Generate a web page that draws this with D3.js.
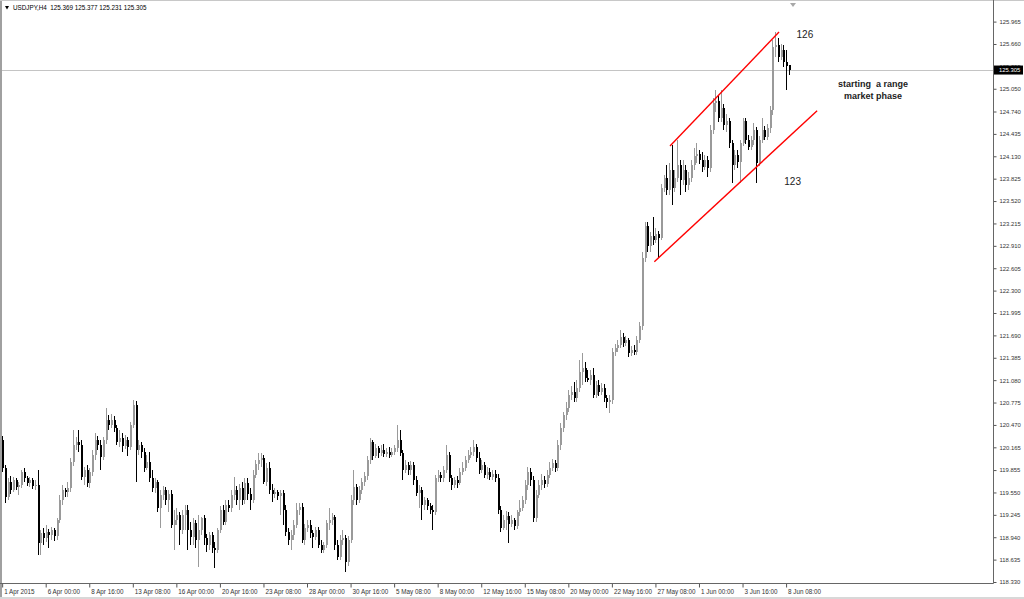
<!DOCTYPE html>
<html><head><meta charset="utf-8">
<script src="https://cdn.jsdelivr.net/npm/d3@7"></script>
<style>html,body{margin:0;padding:0;background:#fff;}svg{display:block;}</style>
</head><body>
<svg id="c" width="1024" height="599"></svg>
<script>
const symbolTitle = "USDJPY,H4  125.369 125.377 125.231 125.305";
const lastPrice = 125.305;

const opens = [
120.26,119.88,119.49,119.69,119.58,119.72,119.62,119.65,119.83,119.75,
119.68,119.72,119.64,119.65,118.86,119.00,118.93,119.01,118.97,119.04,
118.96,119.18,119.45,119.58,119.55,119.61,119.97,120.20,120.24,120.20,
119.76,119.86,119.68,119.83,120.06,120.26,120.20,120.03,120.26,120.54,
120.47,120.54,120.43,120.24,120.29,120.18,120.26,120.17,120.47,120.74,
120.13,120.20,120.10,119.88,119.97,119.75,119.61,119.69,119.34,119.51,
119.58,119.45,119.53,119.11,119.18,119.24,119.04,119.24,119.31,119.04,
118.94,119.14,118.90,119.04,119.20,118.93,118.84,118.97,118.79,118.77,
119.04,119.31,119.15,119.38,119.34,119.51,119.58,119.45,119.61,119.45,
119.68,119.53,119.45,119.79,119.94,119.99,120.02,119.69,119.88,119.58,
119.53,119.55,119.50,119.54,119.31,119.01,118.90,118.97,119.11,119.31,
119.35,118.90,119.07,119.11,119.00,118.94,119.04,118.84,118.77,118.84,
119.14,119.18,
119.21,118.84,118.67,118.90,118.93,118.60,118.90,119.45,119.62,
119.45,119.58,119.69,119.78,119.99,120.24,120.05,120.16,120.09,120.13,
120.07,120.10,120.06,120.10,120.16,120.26,120.09,119.86,119.92,119.86,
119.92,119.72,119.54,119.58,119.38,119.45,119.37,119.31,119.28,119.75,
119.79,119.75,119.86,120.06,119.75,119.65,119.72,119.68,119.83,119.88,
119.99,120.06,120.10,120.17,120.02,119.86,119.92,119.79,119.83,119.76,
119.80,119.75,119.31,119.07,119.18,119.23,119.12,119.18,119.09,119.28,
119.34,119.45,119.65,119.83,119.72,119.20,119.51,119.65,119.72,119.67,
119.79,119.88,119.95,119.88,120.20,120.43,120.61,120.70,120.88,120.92,
120.84,120.97,121.19,121.25,121.11,
121.08,121.15,120.88,121.01,120.92,120.97,
120.84,120.78,120.81,121.46,121.52,121.56,121.67,121.59,121.63,121.45,
121.49,121.46,121.63,121.82,122.74,123.18,122.91,123.04,122.99,123.07,
123.02,123.70,123.83,123.67,123.94,123.70,123.83,124.01,123.81,123.94,
123.74,123.83,124.01,124.13,124.16,124.08,123.98,124.08,123.97,124.49,
124.86,124.88,124.65,124.79,124.56,124.61,124.31,124.01,124.15,124.05,
124.31,124.61,124.35,124.26,124.35,124.49,124.04,124.35,124.49,124.39,
124.52,124.76,125.62,125.65,125.48,125.58,125.41,125.369];

const highs = [
120.32,119.92,119.75,119.78,119.76,119.75,119.69,119.86,119.88,119.78,
119.76,119.75,119.72,119.86,119.04,119.07,119.11,119.05,119.08,119.07,
119.20,119.51,119.65,119.61,119.69,120.02,120.40,120.30,120.40,120.26,
119.90,119.92,119.88,120.13,120.36,120.32,120.26,120.30,120.70,120.60,
120.62,120.59,120.47,120.40,120.36,120.33,120.30,120.51,120.81,120.80,
120.26,120.24,120.16,120.06,120.10,119.86,119.75,119.72,119.58,119.64,
119.62,119.58,119.58,119.31,119.34,119.28,119.31,119.38,119.38,119.15,
119.20,119.18,119.24,119.22,119.24,118.98,119.01,119.01,118.87,119.07,
119.37,119.38,119.45,119.45,119.58,119.76,119.64,119.67,119.69,119.75,
119.75,119.61,119.86,119.99,120.09,120.09,120.06,119.95,119.97,119.67,
119.61,119.58,119.58,119.58,119.38,119.07,119.04,119.18,119.41,119.41,
119.41,119.12,119.18,119.18,119.04,119.08,119.08,118.90,118.87,119.18,
119.34,119.27,
119.24,118.90,118.97,119.04,118.97,118.96,119.51,119.86,119.67,
119.64,119.75,119.83,120.05,120.29,120.26,120.21,120.18,120.20,120.21,
120.16,120.17,120.16,120.20,120.47,120.40,120.13,119.99,119.97,119.98,
119.97,119.78,119.65,119.62,119.49,119.47,119.41,119.38,119.79,119.86,
119.83,119.91,120.20,120.10,119.79,119.76,119.78,119.88,119.97,120.05,
120.13,120.17,120.26,120.21,120.10,119.99,119.97,119.90,119.88,119.86,
119.86,119.80,119.37,119.24,119.30,119.28,119.24,119.20,119.31,119.45,
119.50,119.72,119.90,119.88,119.78,119.58,119.72,119.80,119.78,119.86,
119.97,120.01,119.99,120.26,120.50,120.65,120.78,120.94,121.00,121.05,
121.08,121.35,121.45,121.33,121.22,
121.22,121.25,121.07,121.08,121.04,121.03,
120.88,120.88,121.52,121.57,121.63,121.76,121.72,121.68,121.65,121.55,
121.56,121.68,121.87,122.83,123.23,123.23,123.10,123.30,123.15,123.11,
123.75,123.87,124.01,124.04,124.28,123.94,124.35,124.08,124.08,124.01,
123.92,124.08,124.24,124.31,124.22,124.19,124.15,124.13,124.56,124.92,
125.03,124.95,125.03,124.84,124.71,124.65,124.35,124.22,124.22,124.35,
124.65,124.65,124.42,124.41,124.58,124.53,124.41,124.65,124.54,124.57,
124.82,125.71,125.82,125.74,125.66,125.65,125.58,125.377];

const lows = [
119.83,119.41,119.45,119.53,119.55,119.58,119.51,119.61,119.69,119.64,
119.62,119.60,119.58,118.70,118.70,118.84,118.87,118.79,118.90,118.89,
118.90,119.14,119.38,119.49,119.49,119.55,119.91,120.13,120.10,119.72,
119.65,119.62,119.61,119.78,119.99,120.13,119.86,119.99,120.21,120.40,
120.43,120.37,120.20,120.17,120.10,120.14,120.05,120.13,120.43,119.69,
120.06,120.02,119.83,119.86,119.69,119.55,119.54,119.28,119.07,119.45,
119.38,119.28,119.07,118.77,119.11,118.84,118.98,119.04,118.77,118.84,
118.84,118.79,118.53,118.97,118.84,118.74,118.77,118.73,118.52,118.73,
119.00,119.10,119.11,119.28,119.28,119.45,119.38,119.31,119.38,119.39,
119.45,119.31,119.41,119.75,119.86,119.90,119.67,119.64,119.53,119.42,
119.47,119.45,119.24,119.11,118.96,118.84,118.77,118.90,119.07,119.24,
118.86,118.84,119.01,118.93,118.79,118.90,118.79,118.73,118.73,118.79,
119.04,119.11,
118.77,118.63,118.63,118.84,118.47,118.55,118.86,119.38,119.38,
119.41,119.53,119.64,119.72,119.94,119.99,120.02,120.02,120.05,120.03,
120.03,120.02,120.03,120.06,120.10,120.05,119.72,119.82,119.79,119.79,
119.65,119.50,119.34,119.18,119.31,119.31,119.26,119.04,119.24,119.69,
119.69,119.69,119.82,119.69,119.58,119.61,119.61,119.65,119.79,119.84,
119.95,120.02,120.05,119.97,119.80,119.82,119.75,119.73,119.72,119.72,
119.69,119.26,119.01,119.04,119.04,118.86,119.08,119.04,119.05,119.23,
119.30,119.39,119.58,119.64,119.15,119.15,119.47,119.58,119.61,119.62,
119.75,119.84,119.83,119.84,120.13,120.37,120.54,120.65,120.81,120.78,
120.78,120.92,121.01,121.05,121.05,
121.01,120.84,120.84,120.86,120.88,120.78,
120.70,120.63,120.76,121.41,121.46,121.52,121.53,121.55,121.40,121.41,
121.42,121.42,121.59,121.76,122.69,122.83,122.83,122.92,122.95,122.74,
122.99,123.64,123.60,123.60,123.47,123.64,123.78,123.60,123.74,123.64,
123.67,123.78,123.94,124.04,124.03,123.92,123.94,123.85,123.92,124.43,
124.73,124.60,124.60,124.49,124.46,124.24,123.77,123.94,123.97,123.77,
124.27,124.30,124.22,124.22,124.28,123.77,124.00,124.31,124.35,124.35,
124.45,124.69,125.48,125.41,125.44,125.35,125.03,125.231];

const closes = [
119.88,119.49,119.69,119.58,119.72,119.62,119.65,119.83,119.75,119.68,
119.72,119.64,119.65,118.86,119.00,118.93,119.01,118.97,119.04,118.96,
119.18,119.45,119.58,119.55,119.61,119.97,120.20,120.24,120.20,119.76,
119.86,119.68,119.83,120.06,120.26,120.20,120.03,120.26,120.54,120.47,
120.54,120.43,120.24,120.29,120.18,120.26,120.17,120.47,120.74,120.13,
120.20,120.10,119.88,119.97,119.75,119.61,119.69,119.34,119.51,119.58,
119.45,119.53,119.11,119.18,119.24,119.04,119.24,119.31,119.04,118.94,
119.14,118.90,119.04,119.20,118.93,118.84,118.97,118.79,118.77,119.04,
119.31,119.15,119.38,119.34,119.51,119.58,119.45,119.61,119.45,119.68,
119.53,119.45,119.79,119.94,119.99,120.02,119.69,119.88,119.58,119.53,
119.55,119.50,119.54,119.31,119.01,118.90,118.97,119.11,119.31,119.35,
118.90,119.07,119.11,119.00,118.94,119.04,118.84,118.77,118.84,119.14,
119.18,119.21,
118.84,118.67,118.90,118.93,118.60,118.90,119.45,119.62,119.45,
119.58,119.69,119.78,119.99,120.24,120.05,120.16,120.09,120.13,120.07,
120.10,120.06,120.10,120.16,120.26,120.09,119.86,119.92,119.86,119.92,
119.72,119.54,119.58,119.38,119.45,119.37,119.31,119.28,119.75,119.79,
119.75,119.86,120.06,119.75,119.65,119.72,119.68,119.83,119.88,119.99,
120.06,120.10,120.17,120.02,119.86,119.92,119.79,119.83,119.76,119.80,
119.75,119.31,119.07,119.18,119.23,119.12,119.18,119.09,119.28,119.34,
119.45,119.65,119.83,119.72,119.20,119.51,119.65,119.72,119.67,119.79,
119.88,119.95,119.88,120.20,120.43,120.61,120.70,120.88,120.92,120.84,
120.97,121.19,121.25,121.11,121.08,
121.15,120.88,121.01,120.92,120.97,120.84,
120.78,120.81,121.46,121.52,121.56,121.67,121.59,121.63,121.45,121.49,
121.46,121.63,121.82,122.74,123.18,122.91,123.04,122.99,123.07,123.02,
123.70,123.83,123.67,123.94,123.70,123.83,124.01,123.81,123.94,123.74,
123.83,124.01,124.13,124.16,124.08,123.98,124.08,123.97,124.49,124.86,
124.88,124.65,124.79,124.56,124.61,124.31,124.01,124.15,124.05,124.31,
124.61,124.35,124.26,124.35,124.49,124.04,124.35,124.49,124.39,124.52,
124.76,125.62,125.65,125.48,125.58,125.41,125.36,125.305];

const priceTicks = [125.965,125.660,125.355,125.050,124.740,124.435,124.130,123.825,123.520,123.215,
  122.910,122.605,122.300,121.995,121.690,121.385,121.080,120.775,120.470,120.165,
  119.855,119.550,119.245,118.940,118.635,118.330];

const timeTickBars = [0,16,32,48,64,80,96,112,128,144,160,176,192,208,224,240,256,272,288];
const timeTickLabels = ["1 Apr 2015","6 Apr 00:00","8 Apr 16:00","13 Apr 08:00","16 Apr 00:00",
  "20 Apr 16:00","23 Apr 08:00","28 Apr 00:00","30 Apr 16:00","5 May 08:00","8 May 00:00",
  "12 May 16:00","15 May 08:00","20 May 00:00","22 May 16:00","27 May 08:00","1 Jun 00:00",
  "3 Jun 16:00","8 Jun 08:00"];

// channel lines: [barIndex, price]
const upperChannel = [[245.35, 124.27],[285.4, 125.823]];
const lowerChannel = [[239.6, 122.694],[299.4, 124.751]];

const notes = [
  {bar: 294.9, price: 125.78, text: "126", weight: "normal"},
  {bar: 290.4, price: 123.78, text: "123", weight: "normal"},
  {bar: 319.9, price: 125.10, text: "starting  a range", weight: "bold"},
  {bar: 319.9, price: 124.94, text: "market phase", weight: "bold"}
];

// ---------- drawing ----------
const svg = d3.select("#c");
const plotRight = 993.5, plotBottom = 583.5;

const x = d3.scaleLinear().domain([0, 289]).range([2.15, 2.15 + 289*2.722]);
const y = d3.scaleLinear().domain([118.33, 125.965]).range([582, 21.6]);

svg.append("rect").attr("width",1024).attr("height",599).attr("fill","#fff");

// outer borders
svg.append("rect").attr("x",0).attr("y",0).attr("width",2).attr("height",599).attr("fill","#a0a0a0");
svg.append("rect").attr("x",0).attr("y",0).attr("width",1024).attr("height",1).attr("fill","#c8c8c8");
svg.append("rect").attr("x",0).attr("y",597).attr("width",1024).attr("height",2).attr("fill","#d8d8d8");

// current price line
svg.append("line").attr("x1",2).attr("x2",plotRight).attr("y1",Math.round(y(lastPrice))+0.5).attr("y2",Math.round(y(lastPrice))+0.5)
  .attr("stroke","#c4c4c4").attr("stroke-width",1);

const bars = d3.range(closes.length).map(i => ({i, o:opens[i], h:highs[i], l:lows[i], c:closes[i]}));
const bullCol = "#9a9a9a", bearCol = "#000";
const g = svg.append("g").attr("shape-rendering","crispEdges");
g.selectAll("line.wick").data(bars).join("line")
  .attr("x1", d => Math.round(x(d.i)) + 0.5).attr("x2", d => Math.round(x(d.i)) + 0.5)
  .attr("y1", d => y(d.h)).attr("y2", d => y(d.l))
  .attr("stroke", d => d.c >= d.o ? bullCol : bearCol).attr("stroke-width",1);
g.selectAll("rect.body").data(bars).join("rect")
  .attr("x", d => Math.round(x(d.i)))
  .attr("width", 2)
  .attr("y", d => y(Math.max(d.o,d.c)))
  .attr("height", d => Math.max(1, Math.abs(y(d.o)-y(d.c))))
  .attr("fill", d => d.c >= d.o ? bullCol : bearCol);

// channel lines
const lineGen = d3.line().x(d => x(d[0])).y(d => y(d[1]));
[upperChannel, lowerChannel].forEach(seg => {
  svg.append("path").attr("d", lineGen(seg)).attr("fill","none").attr("stroke","#ff0000").attr("stroke-width",1.4);
});

// notes
svg.selectAll("text.note").data(notes).join("text")
  .attr("x", d => x(d.bar)).attr("y", d => y(d.price))
  .attr("text-anchor","middle").attr("dominant-baseline","middle")
  .attr("font-family","Liberation Sans, Arial, sans-serif")
  .attr("font-size", d => d.weight === "bold" ? 9 : 10)
  .attr("font-weight", d => d.weight)
  .attr("xml:space","preserve").style("white-space","pre")
  .attr("fill","#222").text(d => d.text);

// price axis
const yAxis = d3.axisRight(y).tickValues(priceTicks).tickFormat(d3.format(".3f")).tickSize(3).tickPadding(3);
const ya = svg.append("g").attr("transform",`translate(${plotRight},0)`).call(yAxis);
ya.select(".domain").remove();
ya.selectAll("line").attr("stroke","#555");
ya.selectAll("text").attr("font-family","Liberation Sans, Arial, sans-serif").attr("font-size",5.9).attr("fill","#333");

// time axis
const xAxis = d3.axisBottom(x).tickValues(timeTickBars).tickFormat((d,i) => timeTickLabels[i]).tickSize(4).tickPadding(2);
const xa = svg.append("g").attr("transform",`translate(0,${plotBottom})`).call(xAxis);
xa.select(".domain").remove();
xa.selectAll("line").attr("stroke","#555");
xa.selectAll("text").attr("text-anchor","start").attr("dx",1.5)
  .attr("font-family","Liberation Sans, Arial, sans-serif").attr("font-size",6.3).attr("fill","#333");

// frame lines
svg.append("line").attr("x1",plotRight).attr("x2",plotRight).attr("y1",0).attr("y2",plotBottom).attr("stroke","#666");
svg.append("line").attr("x1",0).attr("x2",plotRight).attr("y1",plotBottom).attr("y2",plotBottom).attr("stroke","#666");

// last price box
const ly = y(lastPrice);
svg.append("rect").attr("x",plotRight+0.5).attr("y",ly-4.5).attr("width",29).attr("height",9).attr("fill","#000");
svg.append("text").attr("x",plotRight+5.5).attr("y",ly).attr("dominant-baseline","middle")
  .attr("font-family","Liberation Sans, Arial, sans-serif").attr("font-size",5.9).attr("fill","#fff").text(d3.format(".3f")(lastPrice));

// header
svg.append("path").attr("d","M5,6 L9,6 L7,9.5 Z").attr("fill","#000");
svg.append("text").attr("x",13).attr("y",10.3)
  .attr("font-family","Liberation Sans, Arial, sans-serif").attr("font-size",6.3).attr("fill","#000")
  .attr("xml:space","preserve").style("white-space","pre").text(symbolTitle);

// chart shift marker
svg.append("path").attr("d","M790,3 L796,3 L793,7 Z").attr("fill","#a8a8a8");
</script>
</body></html>
